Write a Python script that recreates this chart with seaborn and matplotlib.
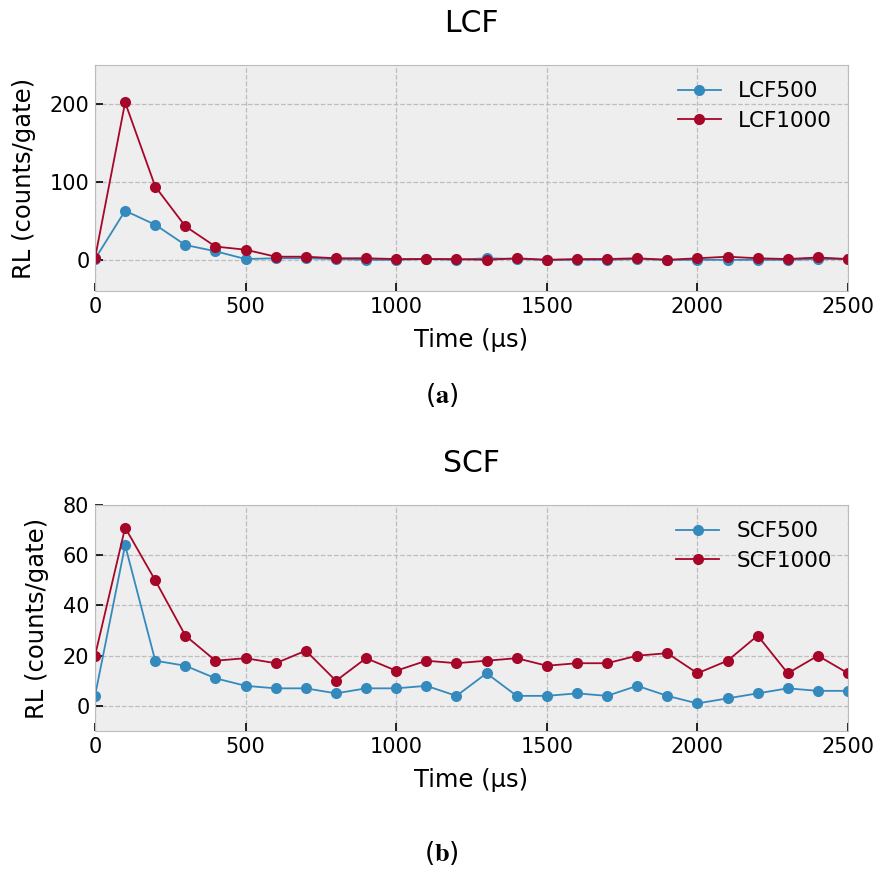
import matplotlib
matplotlib.use("Agg")
import matplotlib.pyplot as plt
import seaborn as sns
import pandas as pd
import numpy as np

time_us = [0, 100, 200, 300, 400, 500, 600, 700, 800, 900, 1000, 1100, 1200,
           1300, 1400, 1500, 1600, 1700, 1800, 1900, 2000, 2100, 2200, 2300, 2400, 2500]

lcf500 = [1, 63, 45, 19, 11, 1, 2, 2, 1, 0, 0, 1, 0, 2, 1, 0, 0, 0, 1, 0, 0, 0, 0, 0, 1, 1]
lcf1000 = [2, 202, 94, 43, 17, 13, 4, 4, 2, 2, 1, 1, 1, 0, 2, 0, 1, 1, 2, 0, 2, 4, 2, 1, 3, 1]

scf500 = [4, 64, 18, 16, 11, 8, 7, 7, 5, 7, 7, 8, 4, 13, 4, 4, 5, 4, 8, 4, 1, 3, 5, 7, 6, 6]
scf1000 = [20, 71, 50, 28, 18, 19, 17, 22, 10, 19, 14, 18, 17, 18, 19, 16, 17, 17, 20, 21, 13, 18, 28, 13, 20, 13]

titles = ["LCF", "SCF"]
xlabel = "Time (µs)"
ylabel = "RL (counts/gate)"

plt.style.use("bmh")
plt.rcParams["font.family"] = ["DejaVu Sans"]
plt.rcParams["mathtext.fontset"] = "stix"

colors = ["#348ABD", "#A60628"]

fig = plt.figure(figsize=(8.83, 8.71), dpi=100)
fig.patch.set_facecolor("white")
ax1 = fig.add_axes([0.1076, 0.6659, 0.8528, 0.2595])
ax2 = fig.add_axes([0.1076, 0.1607, 0.8528, 0.2595])

panels = [
    (ax1, {"LCF500": lcf500, "LCF1000": lcf1000}, (-40, 250), [0, 100, 200]),
    (ax2, {"SCF500": scf500, "SCF1000": scf1000}, (-10, 80), [0, 20, 40, 60, 80]),
]

for i, (ax, series, ylim, yticks) in enumerate(panels):
    for (name, vals), c in zip(series.items(), colors):
        df = pd.DataFrame({"Time": time_us, "RL": vals})
        sns.lineplot(data=df, x="Time", y="RL", ax=ax, color=c, marker="o",
                     markersize=8, markeredgecolor=c, markeredgewidth=0,
                     linewidth=1.3, label=name)
    ax.set_xlim(0, 2500)
    ax.set_ylim(*ylim)
    ax.set_yticks(yticks)
    ax.set_xticks([0, 500, 1000, 1500, 2000, 2500])
    ax.tick_params(labelsize=15, direction="in", length=6, width=1.2,
                   color="black", pad=4)
    ax.set_xlabel(xlabel, fontsize=17.5, labelpad=8)
    ax.set_ylabel(ylabel, fontsize=17.5, labelpad=10)
    ax.set_title(titles[i], fontsize=21.5, pad=24)
    ax.grid(True, linestyle="--", color="#bdbdbd", linewidth=0.9)
    for s in ax.spines.values():
        s.set_color("#bcbcbc")
    leg = ax.legend(loc="upper right", fontsize=15.5, frameon=False,
                    markerscale=1.0, handlelength=2.0, borderaxespad=0.35,
                    labelspacing=0.45)

fig.text(0.5, 1 - 395 / 871, r"($\mathbf{a}$)", ha="center", va="center", fontsize=19)
fig.text(0.5, 1 - 853 / 871, r"($\mathbf{b}$)", ha="center", va="center", fontsize=19)

fig.savefig("out.png", dpi=100, facecolor="white")
